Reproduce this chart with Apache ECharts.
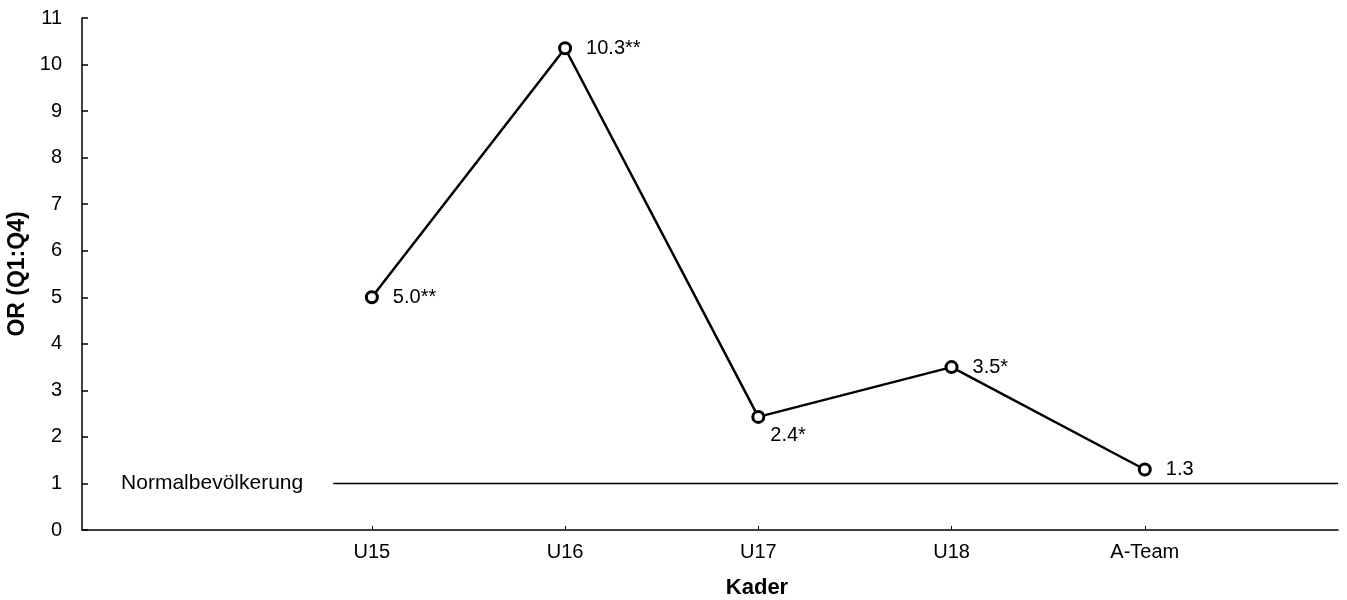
<!DOCTYPE html>
<html>
<head>
<meta charset="utf-8">
<script src="https://cdn.jsdelivr.net/npm/echarts@6/dist/echarts.min.js"></script>
<style>html,body{margin:0;padding:0;background:#fff}#c{width:1347px;height:600px}</style>
</head>
<body>
<div id="c"></div>
<script>
var categories = ["U15", "U16", "U17", "U18", "A-Team"];
var orValues = [5.0, 10.35, 2.43, 3.5, 1.3];
var valueLabels = ["5.0**", "10.3**", "2.4*", "3.5*", "1.3"];
var normalLevel = 1;
var normalLabel = "Normalbevölkerung";
var yTicks = [0,1,2,3,4,5,6,7,8,9,10,11];

var positions = categories.map(function(c, i){ return i + 1; });
var mainData = orValues.map(function(v, i){
  var item = { value: [positions[i], v], label: { formatter: valueLabels[i] } };
  if (i === 2) item.label.offset = [-9, 19];
  return item;
});

var FONT = "Liberation Sans, Arial, sans-serif";
var chart = echarts.init(document.getElementById('c'), null, {renderer: 'canvas'});
chart.setOption({
  backgroundColor: '#fff',
  animation: false,
  grid: { left: 82, right: 9, top: 18, bottom: 70, outerBoundsMode: 'none', containLabel: false },
  xAxis: {
    type: 'value', min: -0.5, max: 6,
    splitLine: { show: false },
    axisLine: { show: true, onZero: false, lineStyle: { color: '#000', width: 1.5 } },
    axisTick: { show: true, inside: true, length: 4, customValues: positions, lineStyle: { color: '#000', width: 1 } },
    axisLabel: {
      customValues: positions, color: '#000', fontSize: 20, fontFamily: FONT, margin: 12,
      formatter: function(v){ var i = Math.round(v) - 1; return categories[i] || ''; }
    }
  },
  yAxis: {
    type: 'value', min: 0, max: 11, interval: 1,
    name: 'OR (Q1:Q4)', nameLocation: 'middle', nameGap: 52,
    nameTextStyle: { color: '#000', fontSize: 23, fontWeight: 'bold', fontFamily: FONT },
    splitLine: { show: false },
    axisLine: { show: true, onZero: false, lineStyle: { color: '#000', width: 1.5 } },
    axisTick: { show: true, inside: true, length: 6, lineStyle: { color: '#000', width: 1.5 } },
    axisLabel: { color: '#000', fontSize: 20, fontFamily: FONT, margin: 20,
      formatter: function(v){ return yTicks.indexOf(v) >= 0 ? String(v) : ''; } }
  },
  graphic: [{
    type: 'text', x: 757, y: 588,
    style: { text: 'Kader', fill: '#000', font: 'bold 22px ' + FONT, align: 'center', verticalAlign: 'middle' }
  }],
  series: [
    {
      type: 'line',
      data: [[0.8, normalLevel], [6, normalLevel]],
      symbol: 'none', silent: true,
      lineStyle: { color: '#000', width: 1.5 },
      markPoint: {
        symbol: 'circle', symbolSize: 0,
        data: [{ coord: [0.8, normalLevel] }],
        label: { show: true, position: 'left', distance: 30, formatter: normalLabel,
          color: '#000', fontSize: 21, fontFamily: FONT }
      },
      z: 1
    },
    {
      type: 'line',
      data: mainData,
      symbol: 'circle', symbolSize: 11,
      itemStyle: { color: '#fff', borderColor: '#000', borderWidth: 3 },
      lineStyle: { color: '#000', width: 2.5 },
      label: { show: true, position: 'right', distance: 14, color: '#000', fontSize: 20, fontFamily: FONT },
      z: 3
    }
  ]
});
</script>
</body>
</html>
